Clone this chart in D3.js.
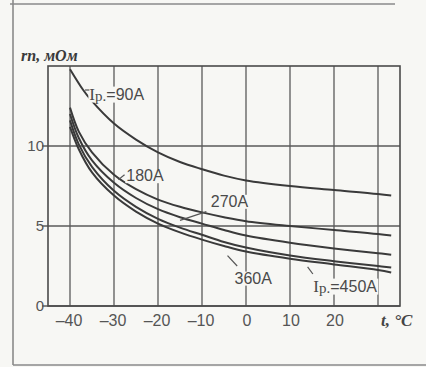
<!DOCTYPE html>
<html>
<head>
<meta charset="utf-8">
<script src="https://cdn.jsdelivr.net/npm/d3@7"></script>
<style>
  body { margin: 0; background: #f7f7f4; }
  svg { display: block; }
</style>
</head>
<body>
<script>
// temperature points (°C) where curves were read
const temps = [-40, -38, -35, -30, -25, -20, -15, -10, -5, 0, 10, 20, 30, 33];
const temps90 = [-40, -37, -35, -30, -25, -20, -15, -10, -5, 0, 10, 20, 30, 33];

// resistance, mOhm
const r90  = [14.8, 13.5, 12.8, 11.4, 10.4, 9.6, 9.0, 8.55, 8.15, 7.85, 7.5, 7.25, 7.0, 6.9];
const r180 = [12.4, 10.9, 9.6, 8.2, 7.3, 6.65, 6.2, 5.85, 5.55, 5.3, 5.0, 4.75, 4.5, 4.4];
const r270 = [12.0, 10.5, 9.1, 7.7, 6.75, 6.05, 5.55, 5.15, 4.75, 4.4, 3.95, 3.6, 3.3, 3.2];
const r360 = [11.6, 10.1, 8.7, 7.2, 6.2, 5.45, 4.9, 4.45, 4.0, 3.65, 3.15, 2.8, 2.5, 2.4];
const r450 = [11.2, 9.8, 8.35, 6.9, 5.9, 5.15, 4.6, 4.15, 3.75, 3.4, 2.95, 2.6, 2.25, 2.1];

const xTicks = [-40, -30, -20, -10, 0, 10, 20];
const xGrid = [-40, -30, -20, -10, 0, 10, 20, 30];
const yTicks = [0, 5, 10];

const W = 426, H = 367;
const bg = "#f7f7f4";

const svg = d3.select("body").append("svg")
    .attr("width", W)
    .attr("height", H);

// scanned page frame
svg.append("path")
    .attr("d", "M10,4 H395 M13,0 V365 M13,365 H426")
    .attr("fill", "none")
    .attr("stroke", "#8a8a8a")
    .attr("stroke-width", 1.6);

const x = d3.scaleLinear().domain([-45, 35]).range([48, 400]);
const y = d3.scaleLinear().domain([0, 15]).range([306, 66]);

const ink = "#3a3a3a";

// grid
svg.selectAll(".vgrid")
    .data(xGrid)
    .enter().append("line")
    .attr("x1", d => x(d)).attr("x2", d => x(d))
    .attr("y1", y(15)).attr("y2", y(0))
    .attr("stroke", "#5a5a5a")
    .attr("stroke-width", 1.3);

svg.selectAll(".hgrid")
    .data(yTicks)
    .enter().append("line")
    .attr("x1", x(-45) - 6).attr("x2", x(35))
    .attr("y1", d => y(d)).attr("y2", d => y(d))
    .attr("stroke", "#5a5a5a")
    .attr("stroke-width", 1.3);

// plot frame
svg.append("rect")
    .attr("x", x(-45)).attr("y", y(15))
    .attr("width", x(35) - x(-45))
    .attr("height", y(0) - y(15))
    .attr("fill", "none")
    .attr("stroke", "#4a4a4a")
    .attr("stroke-width", 1.6);

// curves
const line = d3.line()
    .x(d => x(d[0]))
    .y(d => y(d[1]))
    .curve(d3.curveCatmullRom.alpha(0.5));

const series = [
    d3.zip(temps90, r90),
    d3.zip(temps, r180),
    d3.zip(temps, r270),
    d3.zip(temps, r360),
    d3.zip(temps, r450)
];

svg.selectAll(".curve")
    .data(series)
    .enter().append("path")
    .attr("d", line)
    .attr("fill", "none")
    .attr("stroke", ink)
    .attr("stroke-width", 2);

// curve labels (box in page colour hides the grid behind)
const labels = [
    { t: -35.6, v: 12.9, ip: true, txt: "=90A", lead: [[-36.6, 13.5], [-35.6, 13.5]] },
    { t: -27.2, v: 7.8, ip: false, txt: "180A", lead: [[-29.0, 7.9], [-27.6, 8.2]] },
    { t: -8.0, v: 6.2, ip: false, txt: "270A", lead: [[-9.0, 5.9], [-15.0, 5.35]] },
    { t: -2.6, v: 1.4, ip: false, txt: "360A", lead: [[-4.2, 3.15], [-2.0, 2.5]] },
    { t: 15.3, v: 0.9, ip: true, txt: "=450A", lead: [[14.0, 2.45], [15.2, 2.0]] }
];

labels.forEach(l => {
    const g = svg.append("g")
        .attr("transform", `translate(${x(l.t)},${y(l.v)})`);
    const txt = g.append("text")
        .attr("font-family", "Liberation Sans, Arial, sans-serif")
        .attr("font-size", 16)
        .attr("fill", "#4a4a4a");
    if (l.ip) {
        txt.append("tspan")
            .attr("font-family", "Liberation Serif, serif")
            .attr("font-size", 17)
            .text("I");
        txt.append("tspan")
            .attr("font-family", "Liberation Serif, serif")
            .attr("font-size", 15)
            .attr("dy", 1)
            .text("p.");
        txt.append("tspan").attr("dy", -1).text(l.txt);
    } else {
        txt.text(l.txt);
    }
    const bb = txt.node().getBBox();
    g.insert("rect", "text")
        .attr("x", bb.x - 1).attr("y", bb.y + 2)
        .attr("width", bb.width + 2).attr("height", bb.height - 3)
        .attr("fill", bg);
    svg.append("line")
        .attr("x1", x(l.lead[0][0])).attr("y1", y(l.lead[0][1]))
        .attr("x2", x(l.lead[1][0])).attr("y2", y(l.lead[1][1]))
        .attr("stroke", "#555")
        .attr("stroke-width", 1.2);
});

// tick labels
svg.selectAll(".xt")
    .data(xTicks)
    .enter().append("text")
    .attr("x", d => x(d) + (d < 0 ? -1 : 1))
    .attr("y", 326)
    .attr("text-anchor", "middle")
    .attr("font-family", "Liberation Sans, Arial, sans-serif")
    .attr("font-size", 16)
    .attr("fill", "#555")
    .text(d => d < 0 ? "\u2013" + Math.abs(d) : d);

svg.selectAll(".yt")
    .data(yTicks)
    .enter().append("text")
    .attr("x", 44)
    .attr("y", d => y(d) + 5)
    .attr("text-anchor", "end")
    .attr("font-family", "Liberation Sans, Arial, sans-serif")
    .attr("font-size", 15)
    .attr("fill", "#555")
    .text(d => d);

// axis titles
svg.append("text")
    .attr("x", 21).attr("y", 61)
    .attr("font-family", "Liberation Serif, serif")
    .attr("font-style", "italic")
    .attr("font-weight", "bold")
    .attr("font-size", 16)
    .attr("fill", "#3a3a3a")
    .text("rп, мОм");

svg.append("text")
    .attr("x", 381).attr("y", 326)
    .attr("font-family", "Liberation Serif, serif")
    .attr("font-style", "italic")
    .attr("font-weight", "bold")
    .attr("font-size", 17)
    .attr("fill", "#444")
    .text("t, °C");
</script>
</body>
</html>
